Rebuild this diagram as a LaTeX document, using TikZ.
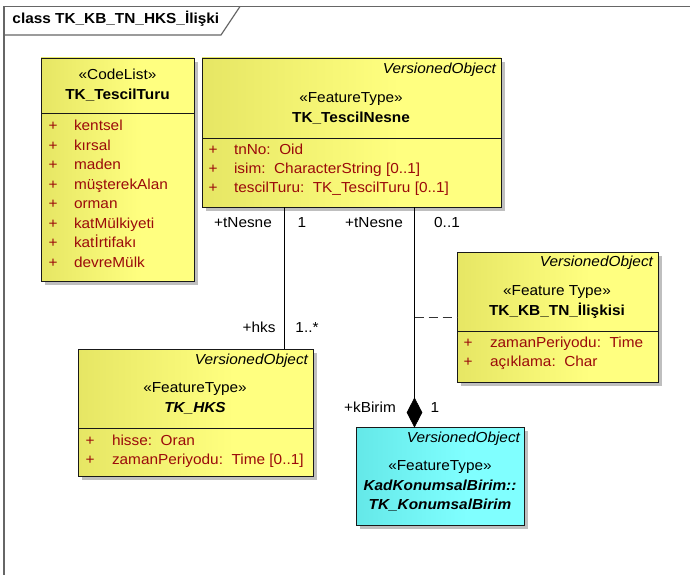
\documentclass[tikz,border=0pt]{standalone}
\usepackage{fontspec}
\setmainfont[FakeStretch=1.06]{Liberation Sans}
\usetikzlibrary{shadows,shapes.geometric}
\definecolor{attr}{RGB}{155,10,10}
\definecolor{yl}{RGB}{230,230,100}
\definecolor{yr}{RGB}{255,255,128}
\definecolor{cl}{RGB}{100,232,232}
\definecolor{cr}{RGB}{128,255,255}
\pgfdeclarehorizontalshading{yshade}{100bp}{color(0bp)=(yl); color(25bp)=(yl); color(58bp)=(yr); color(100bp)=(yr)}
\pgfdeclarehorizontalshading{cshade}{100bp}{color(0bp)=(cl); color(25bp)=(cl); color(58bp)=(cr); color(100bp)=(cr)}
\newcommand\dgfont{\fontsize{14.5}{16}\selectfont}
\tikzset{
  every node/.style={font=\dgfont, inner sep=0pt, outer sep=0pt},
  cls/.style={draw=black!90, line width=0.9pt, anchor=north west,
    shading=yshade,
    drop shadow={shadow xshift=4pt, shadow yshift=-4pt, fill=black!25, opacity=1}},
  clscyan/.style={cls, shading=cshade},
  sepline/.style={draw=black!90, line width=0.9pt},
  stereo/.style={anchor=mid},
  cname/.style={anchor=mid, font=\dgfont\bfseries},
  cnameit/.style={anchor=mid, font=\dgfont\bfseries\itshape},
  vobj/.style={anchor=mid east, font=\dgfont\itshape},
  plus/.style={anchor=mid, text=attr},
  attrib/.style={anchor=mid west, text=attr},
  lbl/.style={anchor=mid},
  assoc/.style={draw=black, line width=0.9pt},
  assocdash/.style={draw=black!80, line width=0.9pt, dash pattern=on 9pt off 5pt},
  framel/.style={draw=black!60, line width=1.2pt},
}
\begin{document}
\begin{tikzpicture}[x=1pt,y=-1pt]
\useasboundingbox (0,0) rectangle (690,575);
\fill[white] (0,0) rectangle (690,575);
% frame
\draw[framel] (4,575) -- (4,6.5) -- (690,6.5);
\draw[framel] (4,35) -- (221,35) -- (240,6.5);
\node[anchor=mid west, font=\dgfont\bfseries] (title) at (12.5,21) {class TK\_KB\_TN\_HKS\_İlişki};

% TK_TescilTuru
\node[cls, minimum width=153pt, minimum height=223pt] (tt) at (41,58) {};
\coordinate (ttsep) at (0,113);
\draw[sepline] (tt.west |- ttsep) -- (tt.east |- ttsep);
\node[stereo] (tts) at (117.5,77) {«CodeList»};
\node[cname] (ttn) at (117.5,97) {TK\_TescilTuru};
\foreach \t [count=\i] in {kentsel,kırsal,maden,müşterekAlan,orman,katMülkiyeti,katİrtifakı,devreMülk}{
  \node[plus] (ttp\i) at (53,{128+(\i-1)*19.5}) {+};
  \node[attrib] (tta\i) at (74,{128+(\i-1)*19.5}) {\t};
}

% TK_TescilNesne
\node[cls, minimum width=299pt, minimum height=149pt] (tn) at (202,58) {};
\coordinate (tnsep) at (0,138);
\draw[sepline] (tn.west |- tnsep) -- (tn.east |- tnsep);
\node[vobj] (tnv) at (496,71) {VersionedObject};
\node[stereo] (tns) at (351,100) {«FeatureType»};
\node[cname] (tnn) at (351,120) {TK\_TescilNesne};
\node[plus] (tnp1) at (213,152) {+};
\node[attrib] (tna1) at (234,152) {tnNo:\ \ Oid};
\node[plus] (tnp2) at (213,171) {+};
\node[attrib] (tna2) at (234,171) {isim:\ \ CharacterString [0..1]};
\node[plus] (tnp3) at (213,190) {+};
\node[attrib] (tna3) at (234,190) {tescilTuru:\ \ TK\_TescilTuru [0..1]};

% TK_KB_TN_Iliskisi
\node[cls, minimum width=201pt, minimum height=130pt] (il) at (457,252) {};
\coordinate (ilsep) at (0,331);
\draw[sepline] (il.west |- ilsep) -- (il.east |- ilsep);
\node[vobj] (ilv) at (653,264) {VersionedObject};
\node[stereo] (ils) at (557,293) {«Feature Type»};
\node[cname] (iln) at (557,313) {TK\_KB\_TN\_İlişkisi};
\node[plus] (ilp1) at (468,345) {+};
\node[attrib] (ila1) at (490,345) {zamanPeriyodu:\ \ Time};
\node[plus] (ilp2) at (468,364) {+};
\node[attrib] (ila2) at (490,364) {açıklama:\ \ Char};

% TK_HKS
\node[cls, minimum width=235pt, minimum height=127pt] (hks) at (78,349) {};
\coordinate (hkssep) at (0,428);
\draw[sepline] (hks.west |- hkssep) -- (hks.east |- hkssep);
\node[vobj] (hksv) at (308,362) {VersionedObject};
\node[stereo] (hkss) at (195,390) {«FeatureType»};
\node[cnameit] (hksn) at (195,410) {TK\_HKS};
\node[plus] (hksp1) at (90,443) {+};
\node[attrib] (hksa1) at (112,443) {hisse:\ \ Oran};
\node[plus] (hksp2) at (90,462) {+};
\node[attrib] (hksa2) at (112,462) {zamanPeriyodu:\ \ Time [0..1]};

% KadKonumsalBirim::TK_KonumsalBirim
\node[clscyan, minimum width=168pt, minimum height=98pt] (kb) at (356,427) {};
\node[vobj] (kbv) at (520,440) {VersionedObject};
\node[stereo] (kbs) at (440,468) {«FeatureType»};
\node[cnameit] (kbn1) at (440,488) {KadKonumsalBirim::};
\node[cnameit] (kbn2) at (440,507) {TK\_KonumsalBirim};

% connectors
\coordinate (l1) at (284,0);
\coordinate (l2) at (414.5,0);
\draw[assoc] (tn.south -| l1) -- (hks.north -| l1);
\node[diamond, fill=black, draw=black, line width=0.5pt, minimum width=15pt, minimum height=29pt, anchor=south] (dia) at (kb.north -| l2) {};
\draw[assoc] (tn.south -| l2) -- (dia.north);
\draw[assocdash] (il.west -| l2) -- (il.west);

% role labels
\node[lbl] (r1) at (243,225) {+tNesne};
\node[lbl] (m1) at (302,225) {1};
\node[lbl] (r2) at (374,225) {+tNesne};
\node[lbl] (m2) at (447,225) {0..1};
\node[lbl] (r3) at (259,330) {+hks};
\node[lbl] (m3) at (307,330) {1..*};
\node[lbl] (r4) at (370,410) {+kBirim};
\node[lbl] (m4) at (435,410) {1};
\end{tikzpicture}
\end{document}
